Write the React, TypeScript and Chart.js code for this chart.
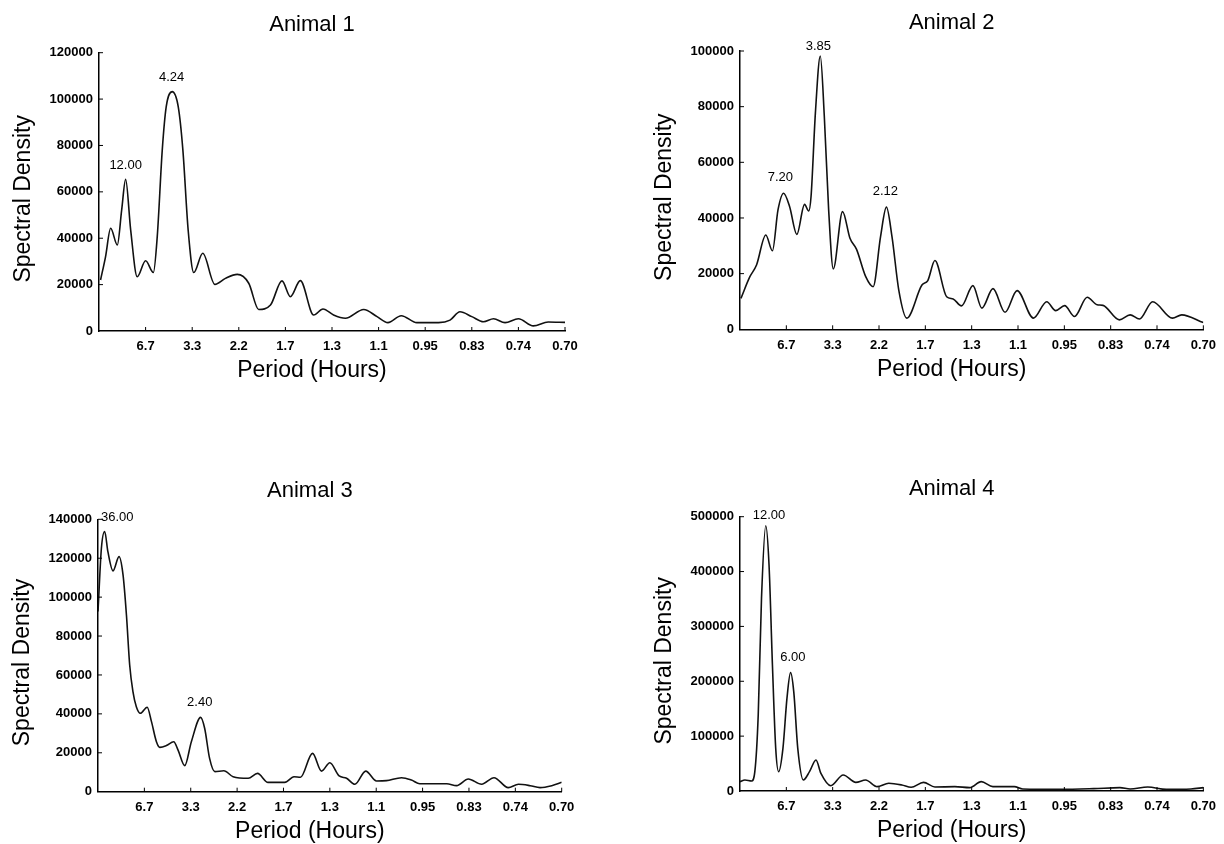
import React, { useEffect, useRef } from "react";
import { Chart, registerables } from "chart.js";

Chart.register(...registerables);

const FONT = "'Liberation Sans', Arial, Helvetica, sans-serif";

// x axis: frequency (cycles/hour), labelled with period in hours
const periodTickFreqs = [0, 0.15, 0.3, 0.45, 0.6, 0.75, 0.9, 1.05, 1.2, 1.35, 1.5];
const periodTickLabels = ["", "6.7", "3.3", "2.2", "1.7", "1.3", "1.1", "0.95", "0.83", "0.74", "0.70"];

// ---------- Animal 1 ----------
const animal1Freq = [0.005, 0.021, 0.0375, 0.059, 0.073, 0.0857, 0.102, 0.123, 0.15, 0.175, 0.1875, 0.2036, 0.2164, 0.2357, 0.255, 0.27, 0.287, 0.305, 0.334, 0.373, 0.407, 0.445, 0.482, 0.514, 0.552, 0.589, 0.616, 0.648, 0.691, 0.721, 0.755, 0.793, 0.852, 0.895, 0.93, 0.973, 1.023, 1.093, 1.13, 1.162, 1.2, 1.2375, 1.27, 1.307, 1.35, 1.398, 1.446, 1.5];
const animal1Density = [22000, 32000, 44300, 37100, 52200, 65400, 43500, 23400, 30300, 25200, 40700, 78000, 96700, 103200, 96700, 78000, 43500, 25200, 33500, 20100, 22700, 24400, 20600, 9300, 11200, 21600, 14800, 21700, 6900, 9500, 6900, 5500, 9300, 6200, 3600, 6600, 3600, 3600, 4700, 8300, 6200, 4000, 5300, 3600, 5300, 2200, 3900, 3700];
const animal1PeakText = ["12.00", "4.24"];
const animal1PeakFreq = [0.0858, 0.2337];
const animal1PeakLabelY = [71500, 109400];

// ---------- Animal 2 ----------
const animal2Freq = [0.003, 0.032, 0.0535, 0.0835, 0.105, 0.123, 0.1412, 0.1605, 0.184, 0.209, 0.2225, 0.23, 0.244, 0.26, 0.273, 0.287, 0.302, 0.332, 0.356, 0.377, 0.407, 0.431, 0.455, 0.474, 0.492, 0.514, 0.54, 0.589, 0.608, 0.631, 0.669, 0.69, 0.717, 0.754, 0.783, 0.819, 0.858, 0.897, 0.95, 0.993, 1.022, 1.051, 1.083, 1.124, 1.156, 1.175, 1.228, 1.263, 1.293, 1.336, 1.4, 1.43, 1.5];
const animal2Density = [11100, 18900, 23100, 33900, 28200, 42900, 48900, 44100, 34100, 44900, 42500, 47700, 77600, 98200, 76400, 42900, 21700, 42300, 32700, 28800, 18900, 15300, 33300, 43900, 33300, 14100, 4000, 15900, 17500, 24700, 11700, 10900, 8400, 15700, 7600, 14600, 6100, 13900, 4000, 9900, 6700, 8500, 4600, 11500, 8800, 8600, 3400, 5200, 3700, 9900, 4000, 5200, 2400];
const animal2PeakText = ["7.20", "3.85", "2.12"];
const animal2PeakFreq = [0.1306, 0.2535, 0.4708];
const animal2PeakLabelY = [54500, 101500, 49700];

// ---------- Animal 3 ----------
const animal3Freq = [0.0, 0.011, 0.0216, 0.032, 0.0486, 0.068, 0.081, 0.092, 0.1025, 0.113, 0.124, 0.137, 0.159, 0.173, 0.189, 0.2, 0.221, 0.245, 0.259, 0.2805, 0.302, 0.332, 0.345, 0.361, 0.378, 0.407, 0.437, 0.486, 0.516, 0.55, 0.604, 0.634, 0.655, 0.694, 0.723, 0.75, 0.78, 0.804, 0.831, 0.866, 0.901, 0.933, 0.982, 1.014, 1.041, 1.128, 1.16, 1.198, 1.241, 1.281, 1.327, 1.36, 1.398, 1.43, 1.468, 1.5];
const animal3Density = [92600, 125100, 133700, 123400, 113500, 120800, 111400, 90800, 65100, 51400, 43700, 40300, 43400, 36000, 25700, 22800, 23700, 25700, 21400, 13400, 25700, 38200, 32600, 17100, 10300, 10800, 7700, 6900, 9400, 4800, 4800, 7700, 7400, 19700, 10600, 14900, 8100, 6900, 3800, 10600, 5500, 5700, 7200, 6000, 4100, 4100, 3100, 6500, 3800, 7200, 2100, 3800, 3100, 2100, 3100, 4800];
const animal3PeakText = ["36.00", "2.40"];
const animal3PeakFreq = [0.0622, 0.329];
const animal3PeakLabelY = [140900, 45900];

// ---------- Animal 4 ----------
const animal4Freq = [0.0, 0.016, 0.0375, 0.048, 0.059, 0.0696, 0.0835, 0.094, 0.105, 0.1156, 0.125, 0.139, 0.152, 0.1637, 0.174, 0.187, 0.205, 0.225, 0.246, 0.262, 0.294, 0.334, 0.375, 0.4066, 0.444, 0.4815, 0.524, 0.554, 0.594, 0.631, 0.6955, 0.744, 0.781, 0.8186, 0.888, 0.915, 1.038, 1.145, 1.23, 1.263, 1.32, 1.38, 1.46, 1.5];
const animal4Density = [17000, 20000, 18200, 35200, 138500, 351100, 483600, 411900, 229600, 77800, 35200, 77800, 168900, 215700, 181000, 77800, 20100, 35200, 56500, 32200, 9700, 29200, 15800, 20100, 7900, 14000, 10900, 6700, 15800, 7300, 7900, 6100, 17000, 7900, 7900, 3700, 3000, 4300, 6100, 3700, 7300, 3000, 3700, 6100];
const animal4PeakText = ["12.00", "6.00"];
const animal4PeakFreq = [0.0937, 0.171];
const animal4PeakLabelY = [503100, 243700];

const animalTitles = ["Animal 1", "Animal 2", "Animal 3", "Animal 4"];
const animalYMax = [120000, 100000, 140000, 500000];
const animalYStep = [20000, 20000, 20000, 100000];

// ---------- layout (canvas placement and plot-area box inside each canvas) ----------
const CW = 612;
const CH = 422;
const XH = 30;
const panelLayout = [
  { left: 0, top: 0, L: 99, R: 565, T: 52.7, B: 331 },
  { left: 612, top: 0, L: 128, R: 595.4, T: 51, B: 329.3 },
  { left: 0, top: 422, L: 98, R: 561.7, T: 97.3, B: 369.7 },
  { left: 612, top: 422, L: 128, R: 595.4, T: 94.7, B: 369 },
];

const decorPlugin = {
  id: "decor",
  afterDraw(chart: any, _args: any, opts: any) {
    const { ctx, chartArea, scales } = chart;
    const xs = scales.x;
    const ys = scales.y;
    ctx.save();
    // inside tick marks
    ctx.strokeStyle = "#000";
    ctx.lineWidth = 1;
    ctx.beginPath();
    xs.ticks.forEach((t: any) => {
      if (t.value === 0) return;
      const px = xs.getPixelForValue(t.value);
      ctx.moveTo(px, chartArea.bottom);
      ctx.lineTo(px, chartArea.bottom - 4);
    });
    ys.ticks.forEach((t: any) => {
      if (t.value === 0) return;
      const py = ys.getPixelForValue(t.value);
      ctx.moveTo(chartArea.left, py);
      ctx.lineTo(chartArea.left + 4, py);
    });
    ctx.stroke();

    ctx.fillStyle = "#000";
    ctx.textAlign = "center";
    ctx.textBaseline = "middle";
    const cx = (chartArea.left + chartArea.right) / 2 - 20;
    ctx.font = `22px ${FONT}`;
    ctx.fillText(opts.title, cx, chartArea.top - 28);
    ctx.font = `23px ${FONT}`;
    ctx.fillText("Period (Hours)", cx, chartArea.bottom + 40);
    ctx.save();
    ctx.translate(chartArea.left - 75, (chartArea.top + chartArea.bottom) / 2 + 7);
    ctx.rotate(-Math.PI / 2);
    ctx.fillText("Spectral Density", 0, 0);
    ctx.restore();

    ctx.font = `13px ${FONT}`;
    opts.peakText.forEach((txt: string, i: number) => {
      ctx.fillText(txt, xs.getPixelForValue(opts.peakFreq[i]), ys.getPixelForValue(opts.peakLabelY[i]));
    });
    ctx.restore();
  },
};

const seriesFreq = [animal1Freq, animal2Freq, animal3Freq, animal4Freq];
const seriesDensity = [animal1Density, animal2Density, animal3Density, animal4Density];
const seriesPeakText = [animal1PeakText, animal2PeakText, animal3PeakText, animal4PeakText];
const seriesPeakFreq = [animal1PeakFreq, animal2PeakFreq, animal3PeakFreq, animal4PeakFreq];
const seriesPeakLabelY = [animal1PeakLabelY, animal2PeakLabelY, animal3PeakLabelY, animal4PeakLabelY];

function Panel({ index }: { index: number }) {
  const ref = useRef<HTMLCanvasElement | null>(null);
  const lay = panelLayout[index];
  useEffect(() => {
    if (!ref.current) return;
    const freq = seriesFreq[index];
    const dens = seriesDensity[index];
    const chart = new Chart(ref.current, {
      type: "line",
      data: {
        datasets: [
          {
            data: freq.map((f, i) => ({ x: f, y: dens[i] })),
            borderColor: "#111",
            borderWidth: 1.6,
            pointRadius: 0,
            fill: false,
            cubicInterpolationMode: "monotone",
            tension: 0.4,
          },
        ],
      },
      options: {
        responsive: false,
        animation: false,
        events: [],
        layout: {
          padding: { left: 0, top: lay.T, right: CW - lay.R, bottom: CH - lay.B - XH },
        },
        plugins: {
          legend: { display: false },
          tooltip: { enabled: false },
          title: { display: false },
          decor: {
            title: animalTitles[index],
            peakText: seriesPeakText[index],
            peakFreq: seriesPeakFreq[index],
            peakLabelY: seriesPeakLabelY[index],
          },
        } as any,
        scales: {
          x: {
            type: "linear",
            min: 0,
            max: 1.5,
            grid: { display: false, drawTicks: false },
            border: { display: true, color: "#000", width: 1.5 },
            afterBuildTicks: (s: any) => {
              s.ticks = periodTickFreqs.map((v) => ({ value: v }));
            },
            afterFit: (s: any) => {
              s.height = XH;
            },
            ticks: {
              autoSkip: false,
              maxRotation: 0,
              padding: 8,
              color: "#000",
              font: { family: FONT, size: 13, weight: "bold" },
              callback: (_v: any, i: number) => periodTickLabels[i],
            },
          },
          y: {
            type: "linear",
            min: 0,
            max: animalYMax[index],
            grid: { display: false, drawTicks: false },
            border: { display: true, color: "#000", width: 1.5 },
            afterFit: (s: any) => {
              s.width = lay.L;
            },
            ticks: {
              stepSize: animalYStep[index],
              padding: 6,
              color: "#000",
              font: { family: FONT, size: 13, weight: "bold" },
              callback: (v: any) => String(v),
            },
          },
        },
      } as any,
      plugins: [decorPlugin as any],
    });
    return () => chart.destroy();
  }, [index]);
  return (
    <canvas
      ref={ref}
      width={CW}
      height={CH}
      style={{ position: "absolute", left: lay.left, top: lay.top, width: CW, height: CH }}
    />
  );
}

export default function App() {
  return (
    <div style={{ position: "absolute", left: 0, top: 0, width: 1224, height: 844, background: "#fff", overflow: "hidden" }}>
      {[0, 1, 2, 3].map((i) => (
        <Panel key={i} index={i} />
      ))}
    </div>
  );
}
